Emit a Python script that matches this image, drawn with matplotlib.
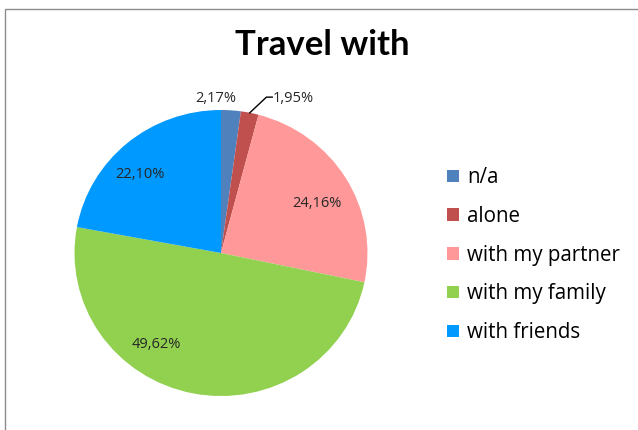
import numpy as np
import matplotlib.pyplot as plt
from matplotlib.patches import Rectangle, Patch

categories = ['n/a', 'alone', 'with my partner', 'with my family', 'with friends']
shares = [2.17, 1.95, 24.16, 49.62, 22.10]
colours = ['#4F81BD', '#C0504D', '#FF9999', '#92D050', '#0099FF']

# where each percentage sits: (angle in degrees, distance from centre in radii)
label_pos = [(92, 1.08), (65.5, 1.19), (28, 0.74), (-124.5, 0.78), (135, 0.78)]

plt.rcParams['font.family'] = ['Lato', 'DejaVu Sans']
body_font = ['Open Sans', 'DejaVu Sans']

fig = plt.figure(figsize=(6.38, 4.30), dpi=100)

# grey chart frame, open to the right and bottom
fig.add_artist(Rectangle((4.5 / 638, -0.1), 1.2, 1.1 - 9.5 / 430,
                         transform=fig.transFigure, fill=False,
                         edgecolor='#8C8C8C', linewidth=1.0))

cx, cy, rx, ry = 221, 253, 146.5, 143
ax = fig.add_axes([(cx - rx) / 638, (430 - cy - ry) / 430, 2 * rx / 638, 2 * ry / 430])
ax.pie(shares, colors=colours, startangle=90, counterclock=False,
       wedgeprops=dict(linewidth=0))
ax.set_xlim(-1, 1)
ax.set_ylim(-1, 1)
ax.set_aspect('auto')
ax.axis('off')

for val, (ang, dist) in zip(shares, label_pos):
    a = np.deg2rad(ang)
    ax.text(dist * np.cos(a), dist * np.sin(a), f'{val:.2f}%'.replace('.', ','),
            ha='center', va='center', fontsize=10.5, color='#262626',
            family=body_font)

# leader line for the small "alone" slice
theta = np.deg2rad(90 - (shares[0] + shares[1] / 2) * 3.6)
ax.plot([np.cos(theta), 0.31, 0.35], [np.sin(theta), 1.09, 1.09],
        color='black', linewidth=1.0, clip_on=False)

fig.text(0.505, 1 - 45 / 430, 'Travel with', ha='center', va='center',
         fontsize=25, fontweight='bold', color='black')

handles = [Patch(facecolor=c, edgecolor='none') for c in colours]
fig.legend(handles, categories, loc='upper left',
           bbox_to_anchor=(437 / 638, 1 - 157 / 430), frameon=False,
           prop=dict(family=body_font, size=14.8), handlelength=0.55,
           handleheight=0.55, handletextpad=0.4, labelspacing=0.86,
           borderpad=0)

fig.savefig('out.png', dpi=100)
